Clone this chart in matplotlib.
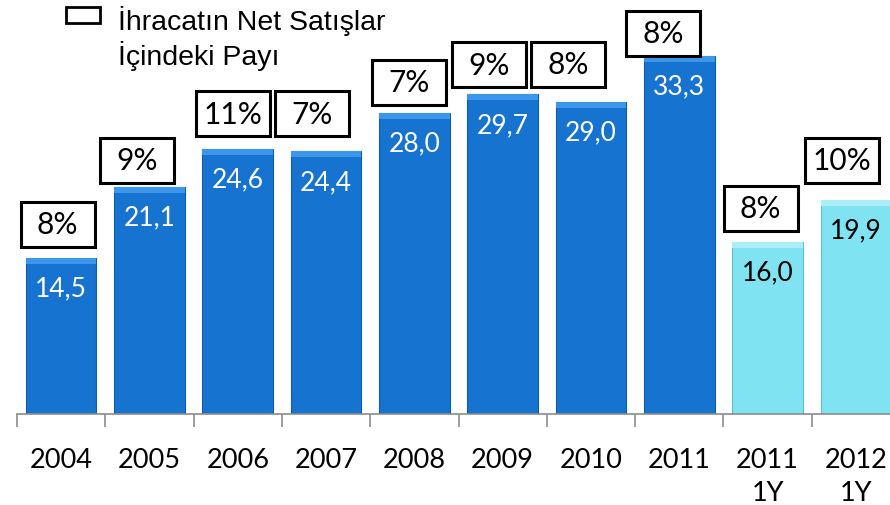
import matplotlib
matplotlib.use("Agg")
import matplotlib.pyplot as plt
from matplotlib.patches import Rectangle
from matplotlib.transforms import ScaledTranslation

# ---- data ----
categories = ["2004", "2005", "2006", "2007", "2008", "2009", "2010", "2011", "2011\n1Y", "2012\n1Y"]
net_sales = [14.5, 21.1, 24.6, 24.4, 28.0, 29.7, 29.0, 33.3, 16.0, 19.9]
value_labels = ["14,5", "21,1", "24,6", "24,4", "28,0", "29,7", "29,0", "33,3", "16,0", "19,9"]
export_share = ["8%", "9%", "11%", "7%", "7%", "9%", "8%", "8%", "8%", "10%"]
is_forecast = [False] * 8 + [True, True]

# ---- layout (pixel offsets of the share boxes) ----
box_dx_px = [-3.5, -12.5, -4.5, -14, -5.5, -14, -23, -16, -7, -14]
box_gap_px = [11, 4, 13, 15, 8, 7, 15, 0, 11, 17]

W, H = 890, 506
DPI = 100
fig = plt.figure(figsize=(W / DPI, H / DPI), dpi=DPI)
ax = fig.add_axes([17 / W, 91 / H, 883 / W, 415 / H])

blue = "#1773D0"
blue_top = "#3C97EC"
blue_edge = "#0F5CA8"
cyan = "#80E3F1"
cyan_top = "#ABEEF7"
cyan_edge = "#5CC0D2"

x = list(range(len(categories)))
colors = [cyan if f else blue for f in is_forecast]
tops = [cyan_top if f else blue_top for f in is_forecast]
edges = [cyan_edge if f else blue_edge for f in is_forecast]

ax.bar(x, net_sales, width=0.8, color=colors, edgecolor=edges, linewidth=0.8, zorder=2)
# bevel highlight at top of each bar
bevel = 0.55
ax.bar(x, [bevel] * len(x), bottom=[v - bevel for v in net_sales], width=0.8,
       color=tops, edgecolor="none", zorder=3)

ax.set_xlim(-0.5, len(categories) - 0.5)
ax.set_ylim(0, 415 / 10.76)

for s in ["top", "right", "left"]:
    ax.spines[s].set_visible(False)
ax.spines["bottom"].set_color("#8c8c8c")
ax.spines["bottom"].set_linewidth(1.2)
ax.set_yticks([])

ax.set_xticks(x)
ax.set_xticklabels(categories, fontsize=19.5, family="Lato", linespacing=1.4)
ax.tick_params(axis="x", which="major", length=0, pad=24)
ax.set_xticks([i - 0.5 for i in range(len(categories) + 1)], minor=True)
ax.tick_params(axis="x", which="minor", length=9, width=1.2, color="#8c8c8c", direction="out")

for i, v in enumerate(net_sales):
    tr = fig.dpi_scale_trans + ScaledTranslation(i, v, ax.transData)
    # value label inside bar
    ax.text(0, -30 / DPI, value_labels[i], transform=tr, ha="center", va="center",
            fontsize=19, family="Lato", color="black" if is_forecast[i] else "white", zorder=5)
    # share box above bar
    bw, bh = 74 / DPI, 45 / DPI
    cx = box_dx_px[i] / DPI
    by = box_gap_px[i] / DPI
    rect = Rectangle((cx - bw / 2, by), bw, bh, transform=tr, fill=True, facecolor="white",
                     edgecolor="black", linewidth=2.2, zorder=6, clip_on=False)
    ax.add_artist(rect)
    ax.text(cx, by + bh / 2, export_share[i], transform=tr, ha="center", va="center",
            fontsize=21.5, family="Lato", color="black", zorder=7)

# legend
fig.add_artist(Rectangle((66 / W, 1 - 24 / H), 34 / W, 16 / H, transform=fig.transFigure,
                         fill=False, edgecolor="black", linewidth=2))
fig.text(118 / W, 1 - 30 / H, "İhracatın Net Satışlar", family="Liberation Sans", fontsize=20.5,
         va="baseline", ha="left")
fig.text(118 / W, 1 - 65 / H, "İçindeki Payı", family="Liberation Sans", fontsize=20.5,
         va="baseline", ha="left")

fig.savefig("out.png", dpi=DPI)
